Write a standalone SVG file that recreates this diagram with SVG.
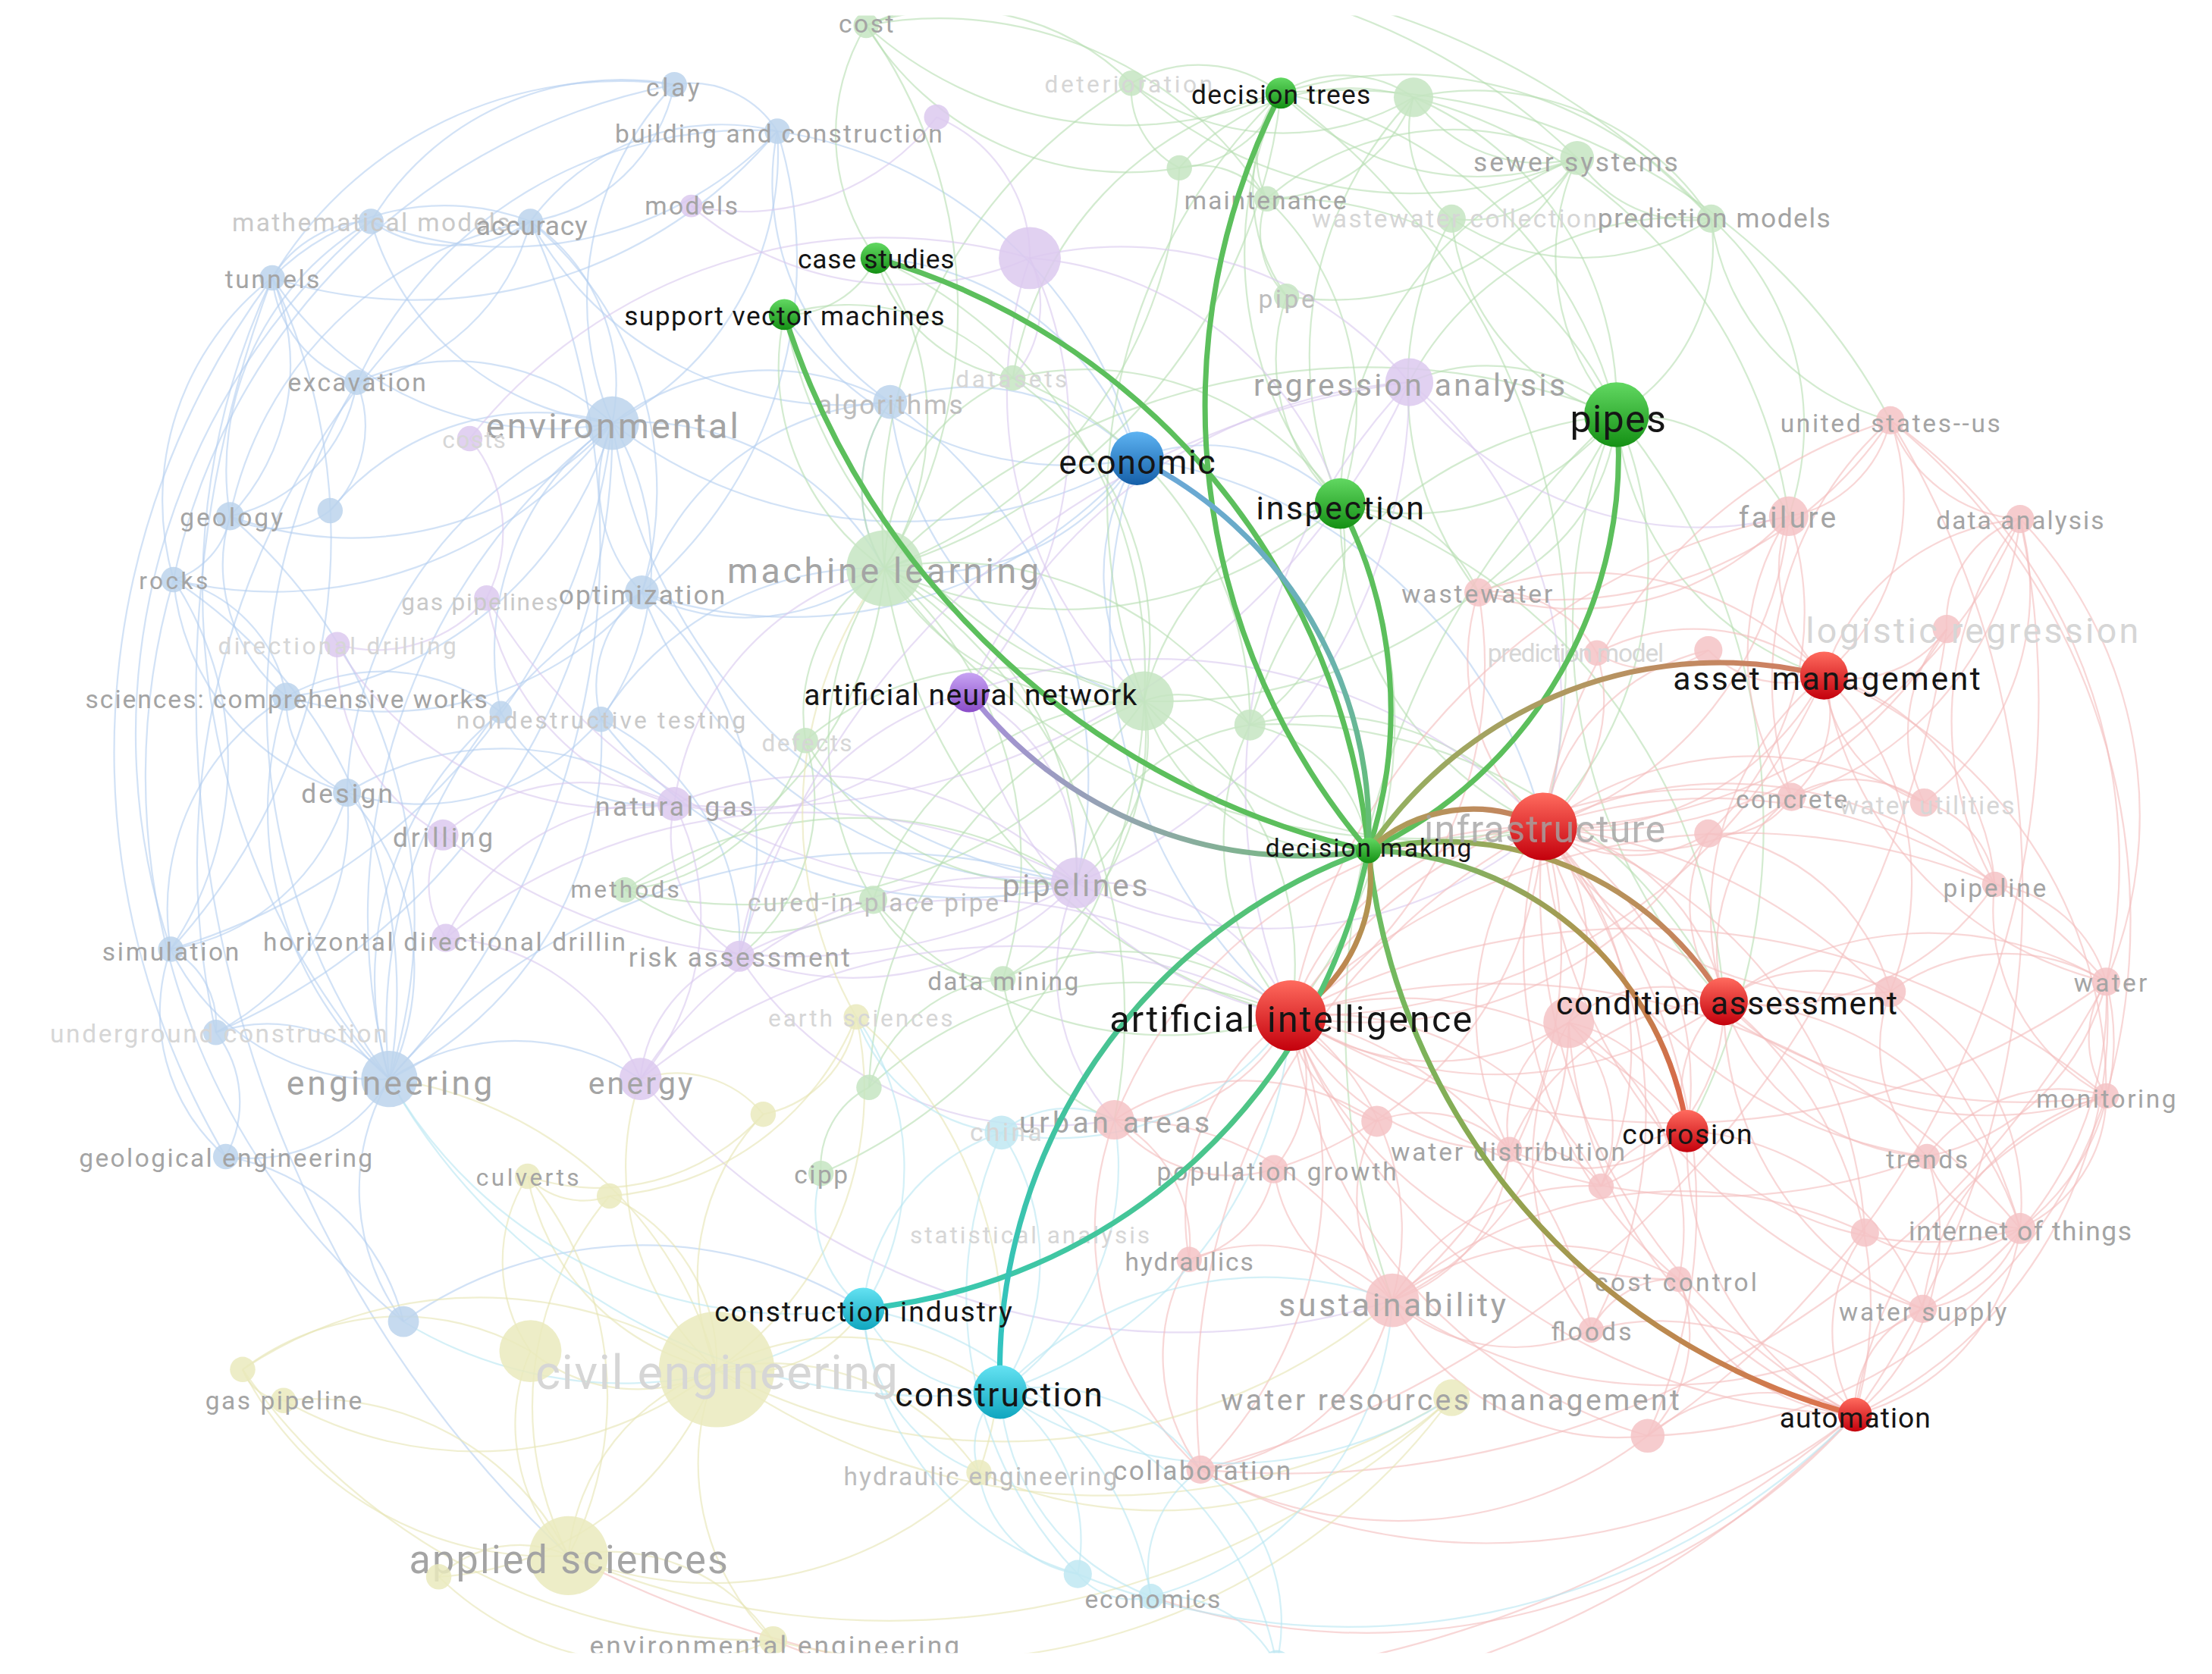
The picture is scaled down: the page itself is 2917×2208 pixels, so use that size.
<svg xmlns="http://www.w3.org/2000/svg" width="2917" height="2208" viewBox="0 0 2917 2208">
<defs>
<style>
.bg path{fill:none;stroke-width:1.2;opacity:.6}
.eb{stroke:#b4cff0}.eg{stroke:#b6deb0}.ep{stroke:#d8c8ee}.er{stroke:#f4bcbc}.ey{stroke:#e6e5b2}.ec{stroke:#b8e6f2}
.nb{fill:#bcd4ec;opacity:.85}.np{fill:#dcc9ee;opacity:.85}.ng{fill:#c6e5c2;opacity:.85}.nr{fill:#f5c3c5;opacity:.85}.ny{fill:#eaeabd;opacity:.85}.nc{fill:#bfe8f2;opacity:.85}
text{font-family:Roboto,"Liberation Sans",sans-serif;text-anchor:middle;dominant-baseline:central}
.lf{fill:#a4a4a4}.lm{fill:#bdbdbd}.lw{fill:#c9c9c9}.lv{fill:#d6d6d6}.lh{fill:#151515}
.hl path{fill:none;stroke-width:3.8;stroke-linecap:round}
.gr{stroke:#5cbf5c}
</style>
<clipPath id="cp"><rect x="0" y="11" width="1568" height="1161"/></clipPath>
<linearGradient id="hg" x1="0" y1="0" x2="0" y2="1"><stop offset="0" stop-color="#62d862"/><stop offset="1" stop-color="#149014"/></linearGradient>
<linearGradient id="hr" x1="0" y1="0" x2="0" y2="1"><stop offset="0" stop-color="#ff6b5e"/><stop offset="1" stop-color="#c4000c"/></linearGradient>
<linearGradient id="hb" x1="0" y1="0" x2="0" y2="1"><stop offset="0" stop-color="#5db3f2"/><stop offset="1" stop-color="#155fa8"/></linearGradient>
<linearGradient id="hp" x1="0" y1="0" x2="0" y2="1"><stop offset="0" stop-color="#c7a3f3"/><stop offset="1" stop-color="#8a4cc8"/></linearGradient>
<linearGradient id="hc" x1="0" y1="0" x2="0" y2="1"><stop offset="0" stop-color="#64e2f2"/><stop offset="1" stop-color="#10a6bf"/></linearGradient>
<linearGradient id="e-econ" gradientUnits="userSpaceOnUse" x1="970" y1="603" x2="806" y2="325"><stop offset="0" stop-color="#62c068"/><stop offset=".35" stop-color="#6ab4a8"/><stop offset="1" stop-color="#6aa6dc"/></linearGradient>
<linearGradient id="e-ann" gradientUnits="userSpaceOnUse" x1="970" y1="603" x2="687" y2="491"><stop offset="0" stop-color="#6fbf76"/><stop offset=".5" stop-color="#8fa8a8"/><stop offset="1" stop-color="#a88edc"/></linearGradient>
<linearGradient id="e-am" gradientUnits="userSpaceOnUse" x1="970" y1="603" x2="1293" y2="479"><stop offset="0" stop-color="#8fb460"/><stop offset="1" stop-color="#d27c62"/></linearGradient>
<linearGradient id="e-inf" gradientUnits="userSpaceOnUse" x1="970" y1="603" x2="1094" y2="586"><stop offset="0" stop-color="#a8a058"/><stop offset="1" stop-color="#c98060"/></linearGradient>
<linearGradient id="e-ca" gradientUnits="userSpaceOnUse" x1="970" y1="603" x2="1222" y2="710"><stop offset="0" stop-color="#74bd5e"/><stop offset=".4" stop-color="#a6a058"/><stop offset="1" stop-color="#d27a5e"/></linearGradient>
<linearGradient id="e-cor" gradientUnits="userSpaceOnUse" x1="970" y1="603" x2="1196" y2="802"><stop offset="0" stop-color="#6cc06c"/><stop offset=".55" stop-color="#b0944e"/><stop offset="1" stop-color="#e06048"/></linearGradient>
<linearGradient id="e-aut" gradientUnits="userSpaceOnUse" x1="970" y1="603" x2="1315" y2="1003"><stop offset="0" stop-color="#66c266"/><stop offset=".45" stop-color="#8fa650"/><stop offset="1" stop-color="#e0704e"/></linearGradient>
<linearGradient id="e-ai" gradientUnits="userSpaceOnUse" x1="970" y1="603" x2="915" y2="720"><stop offset="0" stop-color="#a89c52"/><stop offset="1" stop-color="#c97c50"/></linearGradient>
<linearGradient id="e-ci" gradientUnits="userSpaceOnUse" x1="970" y1="603" x2="612" y2="928"><stop offset="0" stop-color="#5cc266"/><stop offset="1" stop-color="#36c8b8"/></linearGradient>
<linearGradient id="e-cons" gradientUnits="userSpaceOnUse" x1="970" y1="603" x2="709" y2="987"><stop offset="0" stop-color="#5cc266"/><stop offset="1" stop-color="#30c4c6"/></linearGradient>
</defs>
<rect width="2917" height="2208" fill="#ffffff"/>
<g transform="scale(1.8603)">
<g clip-path="url(#cp)">
<g id="connectors-background" class="bg">
<g class="eb">
<path d="M434 300A220 220 0 0 1 478 60"/><path d="M434 300A215 215 0 0 0 551 93"/><path d="M434 300A200 200 0 0 1 263 157"/><path d="M434 300A140 140 0 0 0 376 157"/><path d="M434 300A236 236 0 0 1 193 197"/><path d="M434 300A165 165 0 0 0 253 271"/><path d="M434 300A250 250 0 0 1 163 366"/><path d="M434 300A190 190 0 0 0 234 362"/><path d="M434 300A300 300 0 0 1 123 411"/><path d="M434 300A110 110 0 0 0 455 420"/><path d="M434 300A272 272 0 0 1 203 494"/><path d="M434 300A200 200 0 0 0 355 505"/><path d="M434 300A190 190 0 0 1 426 510"/><path d="M434 300A290 290 0 0 0 246 562"/><path d="M434 300A440 440 0 0 1 121 673"/><path d="M434 300A440 440 0 0 0 276 765"/><path d="M434 300A180 180 0 0 1 631 285"/><path d="M434 300A335 335 0 0 0 806 325"/><path d="M434 300A465 465 0 0 1 153 732"/>
<path d="M276 765A185 185 0 0 0 246 562"/><path d="M276 765A162 162 0 0 1 121 673"/><path d="M276 765A115 115 0 0 0 153 732"/><path d="M276 765A115 115 0 0 1 160 820"/><path d="M276 765A155 155 0 0 0 286 937"/><path d="M276 765A253 253 0 0 1 203 494"/><path d="M276 765A350 350 0 0 0 123 411"/><path d="M276 765A520 520 0 0 1 193 197"/><path d="M276 765A555 555 0 0 0 376 157"/><path d="M276 765A350 350 0 0 1 455 420"/><path d="M276 765A266 266 0 0 0 426 510"/><path d="M276 765A245 245 0 0 1 355 505"/><path d="M276 765A375 375 0 0 0 163 366"/><path d="M276 765A445 445 0 0 1 253 271"/>
<path d="M551 93A72 72 0 0 0 478 60"/><path d="M551 93A265 265 0 0 1 263 157"/><path d="M551 93A168 168 0 0 0 376 157"/><path d="M551 93A335 335 0 0 1 193 197"/><path d="M551 93A187 187 0 0 0 631 285"/><path d="M551 93A310 310 0 0 1 806 325"/><path d="M551 93A305 305 0 0 0 253 271"/><path d="M551 93A307 307 0 0 1 455 420"/>
<path d="M478 60A207 207 0 0 0 263 157"/><path d="M478 60A123 123 0 0 1 376 157"/><path d="M478 60A288 288 0 0 0 193 197"/>
<path d="M376 157A102 102 0 0 1 263 157"/><path d="M376 157A171 171 0 0 0 193 197"/><path d="M376 157A154 154 0 0 1 253 271"/><path d="M376 157A268 268 0 0 0 163 366"/><path d="M376 157A248 248 0 0 1 455 420"/><path d="M376 157A253 253 0 0 0 631 285"/>
<path d="M193 197A82 82 0 0 1 263 157"/><path d="M193 197A86 86 0 0 0 253 271"/><path d="M193 197A155 155 0 0 1 163 366"/><path d="M193 197A200 200 0 0 0 123 411"/><path d="M193 197A430 430 0 0 1 121 673"/>
<path d="M123 411A57 57 0 0 0 163 366"/><path d="M123 411A104 104 0 0 1 203 494"/><path d="M123 411A174 174 0 0 0 246 562"/><path d="M123 411A236 236 0 0 1 121 673"/>
<path d="M203 494A71 71 0 0 0 246 562"/><path d="M203 494A120 120 0 0 1 163 366"/><path d="M203 494A176 176 0 0 0 121 673"/><path d="M203 494A137 137 0 0 1 355 505"/><path d="M203 494A238 238 0 0 0 455 420"/>
<path d="M246 562A155 155 0 0 1 121 673"/><path d="M246 562A167 167 0 0 0 426 510"/><path d="M246 562A172 172 0 0 1 153 732"/>
<path d="M455 420A85 85 0 0 0 426 510"/><path d="M455 420A196 196 0 0 1 631 285"/><path d="M455 420A325 325 0 0 0 806 325"/><path d="M631 285A162 162 0 0 1 806 325"/>
<path d="M121 673A135 135 0 0 0 160 820"/><path d="M153 732A80 80 0 0 1 160 820"/><path d="M286 937A157 157 0 0 0 160 820"/><path d="M286 937A293 293 0 0 1 612 928"/>
<path d="M253 271A117 117 0 0 1 163 366"/><path d="M263 157A203 203 0 0 0 163 366"/><path d="M806 325A210 210 0 0 0 621 183"/><path d="M806 325A175 175 0 0 1 627 403"/><path d="M806 325A243 243 0 0 1 556 223"/><path d="M631 285A106 106 0 0 0 627 403"/>
<path d="M234 362A64 64 0 0 1 163 366"/><path d="M234 362A84 84 0 0 0 253 271"/><path d="M153 732A60 60 0 0 0 121 673"/><path d="M276 765A160 160 0 0 1 454 765"/>
<path d="M263 157A480 480 0 0 0 121 673"/><path d="M478 60A450 450 0 0 0 123 411"/><path d="M193 197A560 560 0 0 0 160 820"/><path d="M376 157A555 555 0 0 0 153 732"/><path d="M123 411A500 500 0 0 0 286 937"/><path d="M193 197A837 837 0 0 0 403 1103"/>
<path d="M434 300A201 201 0 0 1 627 403"/><path d="M434 300A390 390 0 0 0 763 626"/><path d="M276 765A460 460 0 0 1 763 626"/><path d="M455 420A322 322 0 0 0 763 626"/><path d="M455 420A242 242 0 0 1 524 678"/><path d="M455 420A158 158 0 0 0 627 403"/><path d="M426 510A227 227 0 0 1 627 403"/><path d="M426 510A321 321 0 0 0 763 626"/><path d="M426 510A176 176 0 0 1 524 678"/><path d="M355 505A121 121 0 0 0 478 570"/><path d="M246 562A209 209 0 0 1 478 570"/><path d="M806 325A155 155 0 0 0 811 497"/><path d="M806 325A131 131 0 0 1 950 357"/><path d="M806 325A365 365 0 0 0 915 720"/><path d="M806 325A347 347 0 0 1 1094 586"/><path d="M631 285A249 249 0 0 0 811 497"/><path d="M631 285A324 324 0 0 1 763 626"/>
</g>
<g class="eg">
<path d="M908 66A86 86 0 0 1 1002 69"/><path d="M908 66A194 194 0 0 0 1118 112"/><path d="M908 66A286 286 0 0 1 1213 155"/><path d="M908 66A68 68 0 0 0 898 141"/><path d="M908 66A83 83 0 0 1 836 119"/><path d="M908 66A95 95 0 0 0 802 59"/><path d="M908 66A275 275 0 0 1 614 18"/><path d="M908 66A130 130 0 0 0 912 210"/><path d="M908 66A306 306 0 0 1 1146 294"/><path d="M908 66A265 265 0 0 0 950 357"/><path d="M908 66A395 395 0 0 1 627 403"/><path d="M908 66A247 247 0 0 0 718 268"/>
<path d="M1118 112A108 108 0 0 1 1002 69"/><path d="M1118 112A95 95 0 0 0 1213 155"/><path d="M1118 112A89 89 0 0 1 1029 155"/><path d="M1118 112A167 167 0 0 0 1146 294"/><path d="M1118 112A200 200 0 0 1 912 210"/><path d="M1118 112A202 202 0 0 0 898 141"/><path d="M1118 112A290 290 0 0 1 802 59"/><path d="M1118 112A266 266 0 0 0 950 357"/>
<path d="M1213 155A140 140 0 0 1 1146 294"/><path d="M1213 155A200 200 0 0 0 1002 69"/><path d="M1213 155A166 166 0 0 1 1029 155"/><path d="M1213 155A172 172 0 0 0 1340 298"/><path d="M1213 155A196 196 0 0 1 1268 366"/><path d="M1213 155A219 219 0 0 0 999 271"/>
<path d="M1002 69A113 113 0 0 1 898 141"/><path d="M1002 69A158 158 0 0 0 836 119"/><path d="M1002 69A238 238 0 0 1 1146 294"/><path d="M1002 69A82 82 0 0 0 1029 155"/><path d="M1002 69A181 181 0 0 1 802 59"/><path d="M1002 69A264 264 0 0 0 950 357"/>
<path d="M627 403A173 173 0 0 1 556 223"/><path d="M627 403A198 198 0 0 0 621 183"/><path d="M627 403A147 147 0 0 1 718 268"/><path d="M627 403A192 192 0 0 0 811 497"/><path d="M627 403A255 255 0 0 1 886 514"/><path d="M627 403A121 121 0 0 0 571 525"/><path d="M627 403A260 260 0 0 1 443 631"/><path d="M627 403A212 212 0 0 0 619 638"/><path d="M627 403A272 272 0 0 1 711 694"/><path d="M627 403A293 293 0 0 0 950 357"/><path d="M627 403A482 482 0 0 1 1146 294"/><path d="M627 403A315 315 0 0 0 836 119"/><path d="M627 403A359 359 0 0 1 802 59"/><path d="M627 403A347 347 0 0 0 614 18"/><path d="M627 403A106 106 0 0 1 631 285"/>
<path d="M1146 294A185 185 0 0 1 950 357"/><path d="M1146 294A138 138 0 0 0 999 271"/><path d="M1146 294A354 354 0 0 1 811 497"/><path d="M1146 294A302 302 0 0 0 886 514"/><path d="M1146 294A160 160 0 0 1 1029 155"/><path d="M1146 294A259 259 0 0 0 898 141"/><path d="M1146 294A130 130 0 0 1 1268 366"/><path d="M1146 294A212 212 0 0 0 1293 479"/><path d="M1146 294A267 267 0 0 1 1094 586"/><path d="M1146 294A381 381 0 0 0 1222 710"/><path d="M1146 294A144 144 0 0 1 1048 420"/>
<path d="M950 357A184 184 0 0 0 811 497"/><path d="M950 357A151 151 0 0 1 886 514"/><path d="M950 357A204 204 0 0 0 898 141"/><path d="M950 357A138 138 0 0 1 912 210"/><path d="M950 357A219 219 0 0 0 718 268"/>
<path d="M811 497A70 70 0 0 1 886 514"/><path d="M811 497A219 219 0 0 0 571 525"/><path d="M811 497A200 200 0 0 1 711 694"/><path d="M811 497A209 209 0 0 0 619 638"/><path d="M811 497A350 350 0 0 1 443 631"/><path d="M811 497A305 305 0 0 0 616 771"/><path d="M811 497A382 382 0 0 1 582 832"/><path d="M811 497A226 226 0 0 0 718 268"/>
<path d="M614 18A178 178 0 0 1 802 59"/><path d="M614 18A216 216 0 0 0 836 119"/><path d="M614 18A274 274 0 0 1 898 141"/><path d="M614 18A149 149 0 0 0 621 183"/>
<path d="M621 183A69 69 0 0 1 556 223"/><path d="M621 183A121 121 0 0 0 718 268"/><path d="M556 223A156 156 0 0 1 718 268"/><path d="M443 631A158 158 0 0 0 619 638"/><path d="M711 694A98 98 0 0 1 619 638"/><path d="M616 771A63 63 0 0 0 582 832"/><path d="M616 771A110 110 0 0 1 711 694"/><path d="M443 631A148 148 0 0 0 571 525"/><path d="M886 514A104 104 0 0 1 970 603"/><path d="M1029 155A240 240 0 0 0 1048 420"/><path d="M836 119A60 60 0 0 1 898 141"/><path d="M802 59A63 63 0 0 0 836 119"/><path d="M912 210A64 64 0 0 1 898 141"/>
<path d="M1002 69A360 360 0 0 1 1268 366"/><path d="M908 66A440 440 0 0 1 1340 298"/><path d="M614 18A462 462 0 0 1 1118 112"/><path d="M614 18A553 553 0 0 1 1213 155"/><path d="M811 497A150 150 0 0 0 970 603"/>
<path d="M950 357A330 330 0 0 1 915 720"/><path d="M950 357A245 245 0 0 0 1094 586"/><path d="M950 357A400 400 0 0 1 1222 710"/><path d="M1146 294A460 460 0 0 1 1196 802"/><path d="M1146 294A585 585 0 0 0 987 922"/><path d="M627 403A385 385 0 0 0 915 720"/><path d="M627 403A235 235 0 0 1 763 626"/><path d="M627 403A380 380 0 0 1 790 794"/><path d="M811 497A217 217 0 0 1 915 720"/><path d="M811 497A267 267 0 0 0 1094 586"/><path d="M886 514A187 187 0 0 0 915 720"/><path d="M886 514A198 198 0 0 1 1094 586"/><path d="M711 694A185 185 0 0 1 915 720"/><path d="M619 638A276 276 0 0 0 915 720"/><path d="M443 631A288 288 0 0 1 763 626"/><path d="M627 403A468 468 0 0 0 1094 586"/><path d="M616 771A275 275 0 0 1 915 720"/><path d="M711 694A122 122 0 0 0 790 794"/><path d="M811 497A129 129 0 0 1 763 626"/><path d="M886 514A150 150 0 0 0 763 626"/><path d="M886 514A352 352 0 0 1 1222 710"/><path d="M950 357A105 105 0 0 1 1048 420"/><path d="M718 268A260 260 0 0 1 886 514"/><path d="M571 525A199 199 0 0 0 763 626"/><path d="M571 525A141 141 0 0 1 524 678"/><path d="M621 183A320 320 0 0 1 811 497"/><path d="M556 223A354 354 0 0 0 811 497"/><path d="M908 66A400 400 0 0 0 811 497"/><path d="M908 66A487 487 0 0 1 1094 586"/>
</g>
<g class="ep">
<path d="M999 271A265 265 0 0 0 730 183"/><path d="M999 271A385 385 0 0 1 763 626"/><path d="M999 271A368 368 0 0 0 687 491"/><path d="M999 271A517 517 0 0 1 478 570"/><path d="M999 271A572 572 0 0 0 524 678"/>
<path d="M730 183A228 228 0 0 1 490 146"/><path d="M730 183A108 108 0 0 0 664 83"/><path d="M730 183A280 280 0 0 1 687 491"/><path d="M730 183A374 374 0 0 0 333 311"/><path d="M730 183A78 78 0 0 1 718 268"/>
<path d="M763 626A263 263 0 0 0 478 570"/><path d="M763 626A220 220 0 0 1 524 678"/><path d="M763 626A304 304 0 0 0 454 765"/><path d="M763 626A406 406 0 0 1 314 592"/><path d="M763 626A403 403 0 0 0 316 665"/><path d="M763 626A422 422 0 0 1 345 424"/><path d="M763 626A140 140 0 0 0 687 491"/>
<path d="M478 570A177 177 0 0 1 454 765"/><path d="M478 570A101 101 0 0 0 524 678"/><path d="M478 570A181 181 0 0 1 345 424"/><path d="M478 570A149 149 0 0 0 314 592"/><path d="M478 570A233 233 0 0 1 239 457"/><path d="M478 570A166 166 0 0 0 316 665"/>
<path d="M314 592A146 146 0 0 1 239 457"/><path d="M314 592A66 66 0 0 0 316 665"/><path d="M454 765A101 101 0 0 1 524 678"/><path d="M454 765A158 158 0 0 0 316 665"/><path d="M345 424A102 102 0 0 1 239 457"/><path d="M490 146A173 173 0 0 0 664 83"/><path d="M333 311A103 103 0 0 1 345 424"/><path d="M687 491A203 203 0 0 1 478 570"/><path d="M687 491A222 222 0 0 0 524 678"/>
<path d="M999 271A296 296 0 0 1 1094 586"/><path d="M999 271A417 417 0 0 0 915 720"/><path d="M999 271A257 257 0 0 0 1268 366"/><path d="M763 626A151 151 0 0 1 915 720"/><path d="M763 626A300 300 0 0 0 1094 586"/><path d="M763 626A153 153 0 0 0 790 794"/><path d="M524 678A355 355 0 0 1 915 720"/><path d="M524 678A261 261 0 0 0 790 794"/><path d="M687 491A290 290 0 0 0 915 720"/><path d="M687 491A378 378 0 0 1 1094 586"/><path d="M454 765A500 500 0 0 0 987 922"/><path d="M454 765A418 418 0 0 1 915 720"/><path d="M730 183A293 293 0 0 0 811 497"/><path d="M730 183A250 250 0 0 1 950 357"/><path d="M478 570A198 198 0 0 1 627 403"/>
</g>
<g class="er">
<path d="M1094 586A200 200 0 0 0 1293 479"/><path d="M1094 586A157 157 0 0 1 1222 710"/><path d="M1094 586A200 200 0 0 0 915 720"/><path d="M1094 586A212 212 0 0 1 1196 802"/><path d="M1094 586A423 423 0 0 0 1315 1003"/><path d="M1094 586A127 127 0 0 1 1112 725"/><path d="M1094 586A255 255 0 0 0 1268 366"/><path d="M1094 586A156 156 0 0 1 1048 420"/><path d="M1094 586A115 115 0 0 0 1132 463"/><path d="M1094 586A151 151 0 0 1 1211 461"/><path d="M1094 586A160 160 0 0 0 1270 565"/><path d="M1094 586A244 244 0 0 1 1364 569"/><path d="M1094 586A105 105 0 0 0 1211 591"/><path d="M1094 586A290 290 0 0 1 1414 627"/><path d="M1094 586A252 252 0 0 0 1340 703"/><path d="M1094 586A366 366 0 0 1 1493 696"/><path d="M1094 586A393 393 0 0 0 1493 777"/><path d="M1094 586A315 315 0 0 1 987 922"/><path d="M1094 586A208 208 0 0 0 1070 815"/><path d="M1094 586A231 231 0 0 1 1135 841"/><path d="M1094 586A327 327 0 0 0 790 794"/><path d="M1094 586A270 270 0 0 1 903 829"/><path d="M1094 586A331 331 0 0 0 1366 820"/><path d="M1094 586A396 396 0 0 1 1432 871"/><path d="M1094 586A386 386 0 0 0 1363 928"/><path d="M1094 586A318 318 0 0 1 1322 874"/><path d="M1094 586A297 297 0 0 0 1190 907"/><path d="M1094 586A322 322 0 0 1 1128 943"/><path d="M1094 586A461 461 0 0 0 851 1042"/><path d="M1094 586A392 392 0 0 1 1168 1018"/><path d="M1094 586A285 285 0 0 0 1380 446"/><path d="M1094 586A355 355 0 0 1 1340 298"/><path d="M1094 586A364 364 0 0 0 1432 368"/>
<path d="M915 720A177 177 0 0 0 1112 725"/><path d="M915 720A133 133 0 0 1 790 794"/><path d="M915 720A85 85 0 0 0 976 795"/><path d="M915 720A99 99 0 0 1 903 829"/><path d="M915 720A173 173 0 0 0 843 893"/><path d="M915 720A186 186 0 0 1 987 922"/><path d="M915 720A167 167 0 0 0 1070 815"/><path d="M915 720A223 223 0 0 1 1135 841"/><path d="M915 720A276 276 0 0 0 1222 710"/><path d="M915 720A263 263 0 0 1 1196 802"/><path d="M915 720A444 444 0 0 0 1315 1003"/><path d="M915 720A294 294 0 0 1 851 1042"/><path d="M915 720A357 357 0 0 0 1168 1018"/><path d="M915 720A277 277 0 0 1 1128 943"/><path d="M915 720A291 291 0 0 0 1190 907"/><path d="M915 720A483 483 0 0 1 1432 871"/><path d="M915 720A416 416 0 0 0 1366 820"/><path d="M915 720A522 522 0 0 1 1493 777"/><path d="M915 720A520 520 0 0 0 1493 696"/><path d="M915 720A460 460 0 0 1 1414 627"/><path d="M915 720A287 287 0 0 0 1211 591"/><path d="M915 720A348 348 0 0 1 1270 565"/><path d="M915 720A402 402 0 0 0 1293 479"/><path d="M915 720A454 454 0 0 1 1268 366"/><path d="M915 720A293 293 0 0 0 1048 420"/>
<path d="M1293 479A105 105 0 0 1 1268 366"/><path d="M1293 479A167 167 0 0 0 1340 298"/><path d="M1293 479A161 161 0 0 1 1432 368"/><path d="M1293 479A84 84 0 0 0 1380 446"/><path d="M1293 479A76 76 0 0 1 1211 461"/><path d="M1293 479A146 146 0 0 0 1132 463"/><path d="M1293 479A80 80 0 0 1 1270 565"/><path d="M1293 479A104 104 0 0 0 1364 569"/><path d="M1293 479A166 166 0 0 1 1414 627"/><path d="M1293 479A216 216 0 0 0 1222 710"/><path d="M1293 479A204 204 0 0 1 1340 703"/><path d="M1293 479A266 266 0 0 0 1493 696"/><path d="M1293 479A317 317 0 0 1 1493 777"/>
<path d="M1222 710A99 99 0 0 0 1112 725"/><path d="M1222 710A106 106 0 0 1 1340 703"/><path d="M1222 710A86 86 0 0 0 1196 802"/><path d="M1222 710A140 140 0 0 1 1135 841"/><path d="M1222 710A167 167 0 0 0 1070 815"/><path d="M1222 710A137 137 0 0 1 1270 565"/><path d="M1222 710A192 192 0 0 0 1414 627"/><path d="M1222 710A244 244 0 0 1 1493 696"/><path d="M1222 710A258 258 0 0 0 1493 777"/><path d="M1222 710A107 107 0 0 1 1211 591"/><path d="M1222 710A160 160 0 0 0 1366 820"/><path d="M1222 710A230 230 0 0 1 1432 871"/>
<path d="M987 922A129 129 0 0 0 1128 943"/><path d="M987 922A183 183 0 0 1 1190 907"/><path d="M987 922A180 180 0 0 0 1168 1018"/><path d="M987 922A158 158 0 0 1 851 1042"/><path d="M987 922A132 132 0 0 0 843 893"/><path d="M987 922A112 112 0 0 1 903 829"/><path d="M987 922A211 211 0 0 0 790 794"/><path d="M987 922A160 160 0 0 1 1135 841"/><path d="M987 922A338 338 0 0 0 1363 928"/><path d="M987 922A307 307 0 0 1 1322 874"/><path d="M987 922A122 122 0 0 0 1070 815"/>
<path d="M1315 1003A77 77 0 0 1 1363 928"/><path d="M1315 1003A159 159 0 0 0 1432 871"/><path d="M1315 1003A117 117 0 0 1 1322 874"/><path d="M1315 1003A167 167 0 0 0 1366 820"/><path d="M1315 1003A283 283 0 0 1 1493 777"/><path d="M1315 1003A133 133 0 0 0 1168 1018"/><path d="M1315 1003A142 142 0 0 1 1190 907"/><path d="M1315 1003A180 180 0 0 0 1128 943"/><path d="M1315 1003A212 212 0 0 1 1196 802"/><path d="M1315 1003A309 309 0 0 0 1493 696"/>
<path d="M1493 696A384 384 0 0 0 1340 298"/><path d="M1493 696A303 303 0 0 0 1432 368"/><path d="M1493 696A250 250 0 0 1 1363 928"/><path d="M1493 696A166 166 0 0 1 1432 871"/><path d="M1493 696A73 73 0 0 0 1493 777"/><path d="M1493 696A165 165 0 0 1 1366 820"/><path d="M1493 777A116 116 0 0 0 1366 820"/><path d="M1493 777A104 104 0 0 1 1432 871"/><path d="M1493 777A176 176 0 0 0 1363 928"/>
<path d="M1340 298A105 105 0 0 0 1432 368"/><path d="M1340 298A89 89 0 0 1 1268 366"/><path d="M1432 368A77 77 0 0 0 1380 446"/><path d="M1432 368A187 187 0 0 1 1364 569"/><path d="M1380 446A112 112 0 0 0 1364 569"/><path d="M1268 366A207 207 0 0 1 1048 420"/><path d="M1132 463A71 71 0 0 0 1211 461"/><path d="M1270 565A85 85 0 0 1 1364 569"/><path d="M1414 627A69 69 0 0 0 1364 569"/><path d="M1112 725A114 114 0 0 1 1196 802"/><path d="M1112 725A84 84 0 0 0 1070 815"/><path d="M1112 725A106 106 0 0 1 1135 841"/><path d="M976 795A167 167 0 0 0 790 794"/><path d="M903 829A78 78 0 0 1 843 893"/><path d="M790 794A106 106 0 0 0 903 829"/><path d="M851 1042A135 135 0 0 1 843 893"/><path d="M1168 1018A102 102 0 0 0 1190 907"/><path d="M1128 943A65 65 0 0 1 1190 907"/><path d="M1363 928A85 85 0 0 0 1432 871"/><path d="M1432 871A77 77 0 0 1 1366 820"/><path d="M1322 874A99 99 0 0 0 1432 871"/><path d="M1196 802A114 114 0 0 1 1070 815"/><path d="M1196 802A74 74 0 0 0 1135 841"/><path d="M1070 815A63 63 0 0 1 1135 841"/><path d="M851 1042A289 289 0 0 0 1168 1018"/><path d="M851 1042A229 229 0 0 1 790 794"/><path d="M1048 420A85 85 0 0 1 1132 463"/><path d="M1048 420A285 285 0 0 0 1340 298"/>
<path d="M1340 298A640 640 0 0 1 1315 1003"/><path d="M1432 368A630 630 0 0 1 1168 1018"/><path d="M1380 446A720 720 0 0 1 851 1042"/><path d="M1493 696A660 660 0 0 1 851 1042"/><path d="M1493 777A350 350 0 0 1 1168 1018"/><path d="M1340 298A455 455 0 0 1 1493 777"/><path d="M1315 1003A420 420 0 0 1 851 1042"/><path d="M1315 1003A465 465 0 0 1 816 1132"/><path d="M1315 1003A700 700 0 0 1 548 1163"/><path d="M1315 1003A830 830 0 0 1 403 1103"/>
<path d="M790 794A100 100 0 0 1 843 893"/><path d="M976 795A115 115 0 0 0 987 922"/><path d="M976 795A87 87 0 0 1 1070 815"/><path d="M1112 725A215 215 0 0 1 987 922"/><path d="M1112 725A197 197 0 0 0 1128 943"/><path d="M1112 725A173 173 0 0 1 1190 907"/><path d="M1112 725A317 317 0 0 0 1315 1003"/><path d="M1222 710A275 275 0 0 1 1315 1003"/><path d="M1222 710A235 235 0 0 0 1363 928"/><path d="M1196 802A186 186 0 0 1 1363 928"/><path d="M1196 802A225 225 0 0 0 1432 871"/><path d="M1048 420A227 227 0 0 1 1293 479"/><path d="M1268 366A179 179 0 0 0 1270 565"/><path d="M1268 366A214 214 0 0 1 1211 591"/><path d="M1340 298A247 247 0 0 0 1270 565"/><path d="M1432 368A233 233 0 0 1 1270 565"/><path d="M1432 368A235 235 0 0 0 1414 627"/><path d="M1414 627A97 97 0 0 1 1493 696"/><path d="M1414 627A148 148 0 0 0 1493 777"/><path d="M1340 703A138 138 0 0 1 1493 696"/><path d="M1340 703A108 108 0 0 0 1366 820"/><path d="M1340 703A168 168 0 0 1 1432 871"/><path d="M1211 591A59 59 0 0 0 1270 565"/><path d="M1211 591A154 154 0 0 1 1340 703"/>
</g>
<g class="ey">
<path d="M508 971A154 154 0 0 0 403 1103"/><path d="M508 971A120 120 0 0 1 376 958"/><path d="M508 971A302 302 0 0 0 172 971"/><path d="M508 971A278 278 0 0 1 201 993"/><path d="M508 971A175 175 0 0 0 548 1163"/><path d="M508 971A178 178 0 0 1 694 1044"/><path d="M508 971A469 469 0 0 0 1029 991"/><path d="M508 971A172 172 0 0 1 374 834"/><path d="M508 971A131 131 0 0 0 432 848"/><path d="M508 971A166 166 0 0 1 541 790"/><path d="M508 971A239 239 0 0 0 607 721"/><path d="M508 971A182 182 0 0 1 709 987"/><path d="M508 971A101 101 0 0 0 612 928"/><path d="M508 971A225 225 0 0 1 311 1118"/><path d="M508 971A279 279 0 0 0 276 765"/><path d="M508 971A192 192 0 0 1 454 765"/><path d="M508 971A430 430 0 0 0 987 922"/>
<path d="M403 1103A133 133 0 0 1 376 958"/><path d="M403 1103A84 84 0 0 0 311 1118"/><path d="M403 1103A140 140 0 0 1 548 1163"/><path d="M403 1103A270 270 0 0 0 694 1044"/><path d="M403 1103A243 243 0 0 1 172 971"/><path d="M403 1103A203 203 0 0 0 201 993"/><path d="M403 1103A582 582 0 0 0 1029 991"/><path d="M403 1103A244 244 0 0 0 374 834"/><path d="M403 1103A231 231 0 0 1 432 848"/>
<path d="M376 958A185 185 0 0 0 172 971"/><path d="M376 958A112 112 0 0 1 374 834"/><path d="M694 1044A311 311 0 0 0 1029 991"/><path d="M541 790A83 83 0 0 0 607 721"/><path d="M432 848A54 54 0 0 1 374 834"/><path d="M172 971A33 33 0 0 0 201 993"/><path d="M607 721A298 298 0 0 1 694 1044"/><path d="M548 1163A455 455 0 0 0 1029 991"/><path d="M311 1118A220 220 0 0 0 548 1163"/><path d="M172 971A450 450 0 0 0 548 1163"/>
<path d="M541 790A157 157 0 0 1 374 834"/><path d="M432 848A205 205 0 0 0 607 721"/><path d="M607 721A290 290 0 0 1 627 403"/><path d="M541 790A80 80 0 0 0 454 765"/>
</g>
<g class="ec">
<path d="M709 987A102 102 0 0 1 612 928"/><path d="M709 987A166 166 0 0 0 710 803"/><path d="M709 987A126 126 0 0 1 764 1116"/><path d="M709 987A165 165 0 0 0 816 1132"/><path d="M709 987A241 241 0 0 1 905 1180"/><path d="M709 987A52 52 0 0 0 694 1044"/><path d="M709 987A137 137 0 0 1 851 1042"/><path d="M709 987A194 194 0 0 0 790 794"/><path d="M709 987A440 440 0 0 1 276 765"/>
<path d="M612 928A143 143 0 0 1 710 803"/><path d="M612 928A212 212 0 0 0 764 1116"/><path d="M612 928A254 254 0 0 1 816 1132"/><path d="M612 928A186 186 0 0 0 607 721"/><path d="M612 928A89 89 0 0 1 582 832"/>
<path d="M764 1116A50 50 0 0 0 816 1132"/><path d="M816 1132A92 92 0 0 1 905 1180"/><path d="M710 803A72 72 0 0 1 790 794"/><path d="M710 803A284 284 0 0 0 764 1116"/><path d="M816 1132A86 86 0 0 1 851 1042"/><path d="M709 987A300 300 0 0 0 915 720"/><path d="M612 928A330 330 0 0 1 276 765"/><path d="M905 1180A131 131 0 0 0 851 1042"/><path d="M764 1116A506 506 0 0 0 1315 1003"/><path d="M612 928A300 300 0 0 1 286 937"/>
<path d="M710 803A200 200 0 0 0 915 720"/><path d="M710 803A122 122 0 0 1 607 721"/><path d="M612 928A128 128 0 0 0 694 1044"/><path d="M709 987A257 257 0 0 1 987 922"/><path d="M709 987A288 288 0 0 0 1029 991"/><path d="M764 1116A85 85 0 0 1 694 1044"/><path d="M816 1132A230 230 0 0 0 987 922"/>
</g>
</g>

<g id="faded-nodes">
<g id="n-clay"><circle class="nb" cx="478" cy="60" r="9"/><text class="lf" x="477" y="62" font-size="18" textLength="38">clay</text></g>
<g id="n-building-and-construction"><circle class="nb" cx="551" cy="93" r="9"/><text class="lf" x="552" y="95" font-size="18" textLength="232">building and construction</text></g>
<g id="n-mathematical-models"><circle class="nb" cx="263" cy="157" r="9"/><text class="lw" x="263" y="158" font-size="18" textLength="197">mathematical models</text></g>
<g id="n-accuracy"><circle class="nb" cx="376" cy="157" r="9"/><text class="lf" x="377" y="160" font-size="19" textLength="79">accuracy</text></g>
<g id="n-tunnels"><circle class="nb" cx="193" cy="197" r="9"/><text class="lf" x="193" y="198" font-size="18" textLength="67">tunnels</text></g>
<g id="n-excavation"><circle class="nb" cx="253" cy="271" r="9"/><text class="lf" x="253" y="271" font-size="18" textLength="98">excavation</text></g>
<g id="n-environmental"><circle class="nb" cx="434" cy="300" r="19"/><text class="lf" x="434" y="302" font-size="25" textLength="179">environmental</text></g>
<g id="n-geology"><circle class="nb" cx="163" cy="366" r="10"/><text class="lf" x="164" y="367" font-size="18" textLength="73">geology</text></g>
<g id="n-b9"><circle class="nb" cx="234" cy="362" r="9"/></g>
<g id="n-rocks"><circle class="nb" cx="123" cy="411" r="9"/><text class="lf" x="123" y="412" font-size="17" textLength="49">rocks</text></g>
<g id="n-optimization"><circle class="nb" cx="455" cy="420" r="12"/><text class="lf" x="455" y="422" font-size="19" textLength="118">optimization</text></g>
<g id="n-sciences"><circle class="nb" cx="203" cy="494" r="10"/><text class="lf" x="203" y="496" font-size="18" textLength="285">sciences: comprehensive works</text></g>
<g id="n-b13"><circle class="nb" cx="355" cy="505" r="8"/></g>
<g id="n-nondestructive-testing"><circle class="nb" cx="426" cy="510" r="9"/><text class="lw" x="426" y="511" font-size="17" textLength="205">nondestructive testing</text></g>
<g id="n-design"><circle class="nb" cx="246" cy="562" r="10"/><text class="lf" x="246" y="563" font-size="19" textLength="65">design</text></g>
<g id="n-simulation"><circle class="nb" cx="121" cy="673" r="9"/><text class="lf" x="121" y="675" font-size="18" textLength="97">simulation</text></g>
<g id="n-underground-construction"><circle class="nb" cx="153" cy="732" r="9"/><text class="lv" x="155" y="733" font-size="18" textLength="239">underground construction</text></g>
<g id="n-engineering"><circle class="nb" cx="276" cy="765" r="20"/><text class="lf" x="276" y="768" font-size="24" textLength="146">engineering</text></g>
<g id="n-geological-engineering"><circle class="nb" cx="160" cy="820" r="9"/><text class="lf" x="160" y="821" font-size="18" textLength="208">geological engineering</text></g>
<g id="n-b20"><circle class="nb" cx="286" cy="937" r="11"/></g>
<g id="n-algorithms"><circle class="nb" cx="631" cy="285" r="12"/><text class="lm" x="631" y="287" font-size="19" textLength="103">algorithms</text></g>

<g id="n-p1"><circle class="np" cx="664" cy="83" r="9"/></g>
<g id="n-models"><circle class="np" cx="490" cy="146" r="8"/><text class="lf" x="490" y="146" font-size="18" textLength="66">models</text></g>
<g id="n-costs"><circle class="np" cx="333" cy="311" r="9"/><text class="lv" x="336" y="312" font-size="17" textLength="45">costs</text></g>
<g id="n-gas-pipelines"><circle class="np" cx="345" cy="424" r="9"/><text class="lw" x="340" y="427" font-size="17" textLength="111">gas pipelines</text></g>
<g id="n-directional-drilling"><circle class="np" cx="239" cy="457" r="9"/><text class="lv" x="239" y="458" font-size="17" textLength="169">directional drilling</text></g>
<g id="n-drilling"><circle class="np" cx="314" cy="592" r="11"/><text class="lf" x="314" y="594" font-size="19" textLength="71">drilling</text></g>
<g id="n-natural-gas"><circle class="np" cx="478" cy="570" r="12"/><text class="lf" x="478" y="572" font-size="19" textLength="112">natural gas</text></g>
<g id="n-horizontal-directional-drilling"><circle class="np" cx="316" cy="665" r="10"/><text class="lf" x="315" y="668" font-size="18" textLength="257">horizontal directional drillin</text></g>
<g id="n-risk-assessment"><circle class="np" cx="524" cy="678" r="11"/><text class="lf" x="524" y="679" font-size="19" textLength="157">risk assessment</text></g>
<g id="n-energy"><circle class="np" cx="454" cy="765" r="15"/><text class="lf" x="454" y="768" font-size="22" textLength="74">energy</text></g>
<g id="n-pipelines"><circle class="np" cx="763" cy="626" r="18"/><text class="lf" x="762" y="628" font-size="22" textLength="103">pipelines</text></g>
<g id="n-regression-analysis"><circle class="np" cx="999" cy="271" r="17"/><text class="lf" x="999" y="273" font-size="22" textLength="221">regression analysis</text></g>
<g id="n-p13"><circle class="np" cx="730" cy="183" r="22"/></g>

<g id="n-cost"><circle class="ng" cx="614" cy="18" r="9"/><text class="lf" x="614" y="17" font-size="18" textLength="39">cost</text></g>
<g id="n-deterioration"><circle class="ng" cx="802" cy="59" r="9"/><text class="lv" x="800" y="60" font-size="17" textLength="119">deterioration</text></g>
<g id="n-g3"><circle class="ng" cx="836" cy="119" r="9"/></g>
<g id="n-maintenance"><circle class="ng" cx="898" cy="141" r="9"/><text class="lf" x="897" y="142" font-size="18" textLength="115">maintenance</text></g>
<g id="n-g5"><circle class="ng" cx="1002" cy="69" r="14"/></g>
<g id="n-sewer-systems"><circle class="ng" cx="1118" cy="112" r="12"/><text class="lf" x="1117" y="115" font-size="19" textLength="145">sewer systems</text></g>
<g id="n-wastewater-collection"><circle class="ng" cx="1029" cy="155" r="10"/><text class="lv" x="1031" y="155" font-size="18" textLength="202">wastewater collection</text></g>
<g id="n-prediction-models"><circle class="ng" cx="1213" cy="155" r="10"/><text class="lf" x="1215" y="155" font-size="19" textLength="165">prediction models</text></g>
<g id="n-pipe"><circle class="ng" cx="912" cy="210" r="9"/><text class="lm" x="912" y="212" font-size="18" textLength="40">pipe</text></g>
<g id="n-datasets"><circle class="ng" cx="718" cy="268" r="9"/><text class="lv" x="717" y="269" font-size="17" textLength="79">datasets</text></g>
<g id="n-machine-learning"><circle class="ng" cx="627" cy="403" r="27"/><text class="lf" x="626" y="405" font-size="25" textLength="221">machine learning</text></g>
<g id="n-g12"><circle class="ng" cx="811" cy="497" r="21"/></g>
<g id="n-g13"><circle class="ng" cx="886" cy="514" r="11"/></g>
<g id="n-defects"><circle class="ng" cx="571" cy="525" r="9"/><text class="lv" x="572" y="527" font-size="17" textLength="64">defects</text></g>
<g id="n-methods"><circle class="ng" cx="443" cy="631" r="9"/><text class="lf" x="443" y="631" font-size="17" textLength="77">methods</text></g>
<g id="n-cured-in-place-pipe"><circle class="ng" cx="619" cy="638" r="10"/><text class="lm" x="619" y="640" font-size="18" textLength="178">cured-in-place pipe</text></g>
<g id="n-data-mining"><circle class="ng" cx="711" cy="694" r="9"/><text class="lf" x="711" y="696" font-size="18" textLength="107">data mining</text></g>
<g id="n-g18"><circle class="ng" cx="616" cy="771" r="9"/></g>
<g id="n-cipp"><circle class="ng" cx="582" cy="832" r="9"/><text class="lf" x="582" y="833" font-size="18" textLength="38">cipp</text></g>

<g id="n-united-states"><circle class="nr" cx="1340" cy="298" r="10"/><text class="lf" x="1340" y="300" font-size="18" textLength="156">united states--us</text></g>
<g id="n-failure"><circle class="nr" cx="1268" cy="366" r="14"/><text class="lf" x="1267" y="367" font-size="21" textLength="69">failure</text></g>
<g id="n-data-analysis"><circle class="nr" cx="1432" cy="368" r="10"/><text class="lf" x="1432" y="369" font-size="18" textLength="119">data analysis</text></g>
<g id="n-wastewater"><circle class="nr" cx="1048" cy="420" r="10"/><text class="lf" x="1047" y="421" font-size="18" textLength="107">wastewater</text></g>
<g id="n-prediction-model"><circle class="nr" cx="1132" cy="463" r="9"/><text class="lv" x="1117" y="463" font-size="18" textLength="125">prediction model</text></g>
<g id="n-r6"><circle class="nr" cx="1211" cy="461" r="10"/></g>
<g id="n-logistic-regression"><circle class="nr" cx="1380" cy="446" r="10"/><text class="lv" x="1398" y="447" font-size="25" textLength="236">logistic regression</text></g>
<g id="n-concrete"><circle class="nr" cx="1270" cy="565" r="10"/><text class="lf" x="1270" y="567" font-size="18" textLength="79">concrete</text></g>
<g id="n-water-utilities"><circle class="nr" cx="1364" cy="569" r="10"/><text class="lv" x="1366" y="571" font-size="18" textLength="124">water utilities</text></g>
<g id="n-r10"><circle class="nr" cx="1211" cy="591" r="10"/></g>
<g id="n-pipeline"><circle class="nr" cx="1414" cy="627" r="9"/><text class="lf" x="1414" y="630" font-size="18" textLength="73">pipeline</text></g>
<g id="n-r12"><circle class="nr" cx="1340" cy="703" r="11"/></g>
<g id="n-r13"><circle class="nr" cx="1112" cy="725" r="18"/></g>
<g id="n-water"><circle class="nr" cx="1493" cy="696" r="10"/><text class="lf" x="1496" y="697" font-size="18" textLength="52">water</text></g>
<g id="n-monitoring"><circle class="nr" cx="1493" cy="777" r="9"/><text class="lf" x="1493" y="779" font-size="18" textLength="99">monitoring</text></g>
<g id="n-r16"><circle class="nr" cx="976" cy="795" r="11"/></g>
<g id="n-urban-areas"><circle class="nr" cx="790" cy="794" r="14"/><text class="lf" x="790" y="796" font-size="21" textLength="135">urban areas</text></g>
<g id="n-water-distribution"><circle class="nr" cx="1070" cy="815" r="9"/><text class="lf" x="1069" y="817" font-size="18" textLength="166">water distribution</text></g>
<g id="n-r19"><circle class="nr" cx="1135" cy="841" r="9"/></g>
<g id="n-trends"><circle class="nr" cx="1366" cy="820" r="9"/><text class="lf" x="1366" y="822" font-size="18" textLength="58">trends</text></g>
<g id="n-internet-of-things"><circle class="nr" cx="1432" cy="871" r="11"/><text class="lf" x="1432" y="873" font-size="19" textLength="158">internet of things</text></g>
<g id="n-r22"><circle class="nr" cx="1322" cy="874" r="10"/></g>
<g id="n-population-growth"><circle class="nr" cx="903" cy="829" r="10"/><text class="lf" x="905" y="831" font-size="18" textLength="170">population growth</text></g>
<g id="n-hydraulics"><circle class="nr" cx="843" cy="893" r="9"/><text class="lf" x="843" y="895" font-size="18" textLength="91">hydraulics</text></g>
<g id="n-sustainability"><circle class="nr" cx="987" cy="922" r="19"/><text class="lf" x="987" y="925" font-size="23" textLength="161">sustainability</text></g>
<g id="n-cost-control"><circle class="nr" cx="1190" cy="907" r="9"/><text class="lf" x="1188" y="909" font-size="18" textLength="115">cost control</text></g>
<g id="n-floods"><circle class="nr" cx="1128" cy="943" r="9"/><text class="lf" x="1128" y="944" font-size="18" textLength="57">floods</text></g>
<g id="n-water-supply"><circle class="nr" cx="1363" cy="928" r="10"/><text class="lf" x="1363" y="930" font-size="18" textLength="119">water supply</text></g>
<g id="n-r29"><circle class="nr" cx="1168" cy="1018" r="12"/></g>
<g id="n-collaboration"><circle class="nr" cx="851" cy="1042" r="10"/><text class="lf" x="852" y="1043" font-size="19" textLength="126">collaboration</text></g>

<g id="n-culverts"><circle class="ny" cx="374" cy="834" r="9"/><text class="lf" x="374" y="835" font-size="17" textLength="73">culverts</text></g>
<g id="n-y2"><circle class="ny" cx="432" cy="848" r="9"/></g>
<g id="n-y3"><circle class="ny" cx="541" cy="790" r="9"/></g>
<g id="n-earth-sciences"><circle class="ny" cx="607" cy="721" r="9"/><text class="lv" x="610" y="722" font-size="17" textLength="131">earth sciences</text></g>
<g id="n-y5"><circle class="ny" cx="172" cy="971" r="9"/></g>
<g id="n-gas-pipeline"><circle class="ny" cx="201" cy="993" r="9"/><text class="lf" x="201" y="993" font-size="18" textLength="111">gas pipeline</text></g>
<g id="n-y7"><circle class="ny" cx="376" cy="958" r="22"/></g>
<g id="n-civil-engineering"><circle class="ny" cx="508" cy="971" r="41"/><text class="lv" x="508" y="973" font-size="34" textLength="257">civil engineering</text></g>
<g id="n-applied-sciences"><circle class="ny" cx="403" cy="1103" r="28"/><text class="lf" x="403" y="1106" font-size="28" textLength="226">applied sciences</text></g>
<g id="n-y10"><circle class="ny" cx="311" cy="1118" r="9"/></g>
<g id="n-environmental-engineering"><circle class="ny" cx="548" cy="1163" r="10"/><text class="lf" x="549" y="1167" font-size="19" textLength="262">environmental engineering</text></g>
<g id="n-hydraulic-engineering"><circle class="ny" cx="694" cy="1044" r="9"/><text class="lm" x="695" y="1047" font-size="18" textLength="194">hydraulic engineering</text></g>
<g id="n-water-resources-management"><circle class="ny" cx="1029" cy="991" r="13"/><text class="lf" x="1028" y="993" font-size="21" textLength="325">water resources management</text></g>

<g id="n-china"><circle class="nc" cx="710" cy="803" r="12"/><text class="lv" x="713" y="803" font-size="18" textLength="51">china</text></g>
<g id="n-c2"><circle class="nc" cx="764" cy="1116" r="10"/></g>
<g id="n-economics"><circle class="nc" cx="816" cy="1132" r="9"/><text class="lf" x="817" y="1134" font-size="18" textLength="96">economics</text></g>
<g id="n-c4"><circle class="nc" cx="905" cy="1180" r="10"/></g>
<g id="n-statistical-analysis"><text class="lv" x="730" y="876" font-size="17" textLength="170">statistical analysis</text></g>
</g>

<g id="connectors-highlighted" class="hl">
<path class="gr" d="M970 603A486 486 0 0 1 908 66"/>
<path class="gr" d="M970 603A486 486 0 0 0 621 183"/>
<path class="gr" d="M970 603A564 564 0 0 1 556 223"/>
<path class="gr" d="M970 603A317 317 0 0 0 950 357"/>
<path class="gr" d="M970 603A310 310 0 0 0 1146 294"/>
<path stroke="url(#e-econ)" d="M970 603A295 295 0 0 0 806 325"/>
<path stroke="url(#e-ann)" d="M970 603A297 297 0 0 1 687 491"/>
<path stroke="url(#e-am)" d="M970 603A300 300 0 0 1 1293 479"/>
<path stroke="url(#e-inf)" d="M970 603A108 108 0 0 1 1094 586"/>
<path stroke="url(#e-ca)" d="M970 603A231 231 0 0 1 1222 710"/>
<path stroke="url(#e-cor)" d="M970 603A233 233 0 0 1 1196 802"/>
<path stroke="url(#e-aut)" d="M970 603A466 466 0 0 0 1315 1003"/>
<path stroke="url(#e-ai)" d="M970 603A114 114 0 0 1 915 720"/>
<path stroke="url(#e-ci)" d="M970 603A405 405 0 0 1 612 928"/>
<path stroke="url(#e-cons)" d="M970 603A392 392 0 0 0 709 987"/>
</g>

<g id="highlighted-nodes">
<g id="n-infrastructure"><circle cx="1094" cy="586" r="24" fill="url(#hr)"/><text class="lf" x="1095" y="588" font-size="27" textLength="171" opacity="0.8">infrastructure</text></g>
<g id="n-decision-trees"><circle cx="908" cy="66" r="11" fill="url(#hg)"/><text class="lh" x="908" y="67" font-size="19" textLength="127">decision trees</text></g>
<g id="n-case-studies"><circle cx="621" cy="183" r="11" fill="url(#hg)"/><text class="lh" x="621" y="184" font-size="19" textLength="111">case studies</text></g>
<g id="n-support-vector-machines"><circle cx="556" cy="223" r="11" fill="url(#hg)"/><text class="lh" x="556" y="224" font-size="19" textLength="227">support vector machines</text></g>
<g id="n-economic"><circle cx="806" cy="325" r="19" fill="url(#hb)"/><text class="lh" x="806" y="328" font-size="24" textLength="111">economic</text></g>
<g id="n-inspection"><circle cx="950" cy="357" r="18" fill="url(#hg)"/><text class="lh" x="950" y="360" font-size="23" textLength="119">inspection</text></g>
<g id="n-pipes"><circle cx="1146" cy="294" r="23" fill="url(#hg)"/><text class="lh" x="1147" y="297" font-size="27" textLength="68">pipes</text></g>
<g id="n-artificial-neural-network"><circle cx="687" cy="491" r="14" fill="url(#hp)"/><text class="lh" x="688" y="493" font-size="21" textLength="236">artificial neural network</text></g>
<g id="n-asset-management"><circle cx="1293" cy="479" r="17" fill="url(#hr)"/><text class="lh" x="1295" y="481" font-size="23" textLength="218">asset management</text></g>
<g id="n-condition-assessment"><circle cx="1222" cy="710" r="17" fill="url(#hr)"/><text class="lh" x="1224" y="711" font-size="23" textLength="242">condition assessment</text></g>
<g id="n-artificial-intelligence"><circle cx="915" cy="720" r="25" fill="url(#hr)"/><text class="lh" x="915" y="723" font-size="26" textLength="257">artificial intelligence</text></g>
<g id="n-corrosion"><circle cx="1196" cy="802" r="15" fill="url(#hr)"/><text class="lh" x="1196" y="804" font-size="20" textLength="92">corrosion</text></g>
<g id="n-automation"><circle cx="1315" cy="1003" r="12" fill="url(#hr)"/><text class="lh" x="1315" y="1005" font-size="20" textLength="107">automation</text></g>
<g id="n-construction-industry"><circle cx="612" cy="928" r="15" fill="url(#hc)"/><text class="lh" x="612" y="930" font-size="20" textLength="211">construction industry</text></g>
<g id="n-construction"><circle cx="709" cy="987" r="19" fill="url(#hc)"/><text class="lh" x="708" y="989" font-size="24" textLength="147">construction</text></g>
<g id="n-decision-making"><circle cx="970" cy="603" r="9" fill="url(#hg)"/><text class="lh" x="970" y="601" font-size="18" textLength="146">decision making</text></g>
</g>
</g>
</g>
</svg>
